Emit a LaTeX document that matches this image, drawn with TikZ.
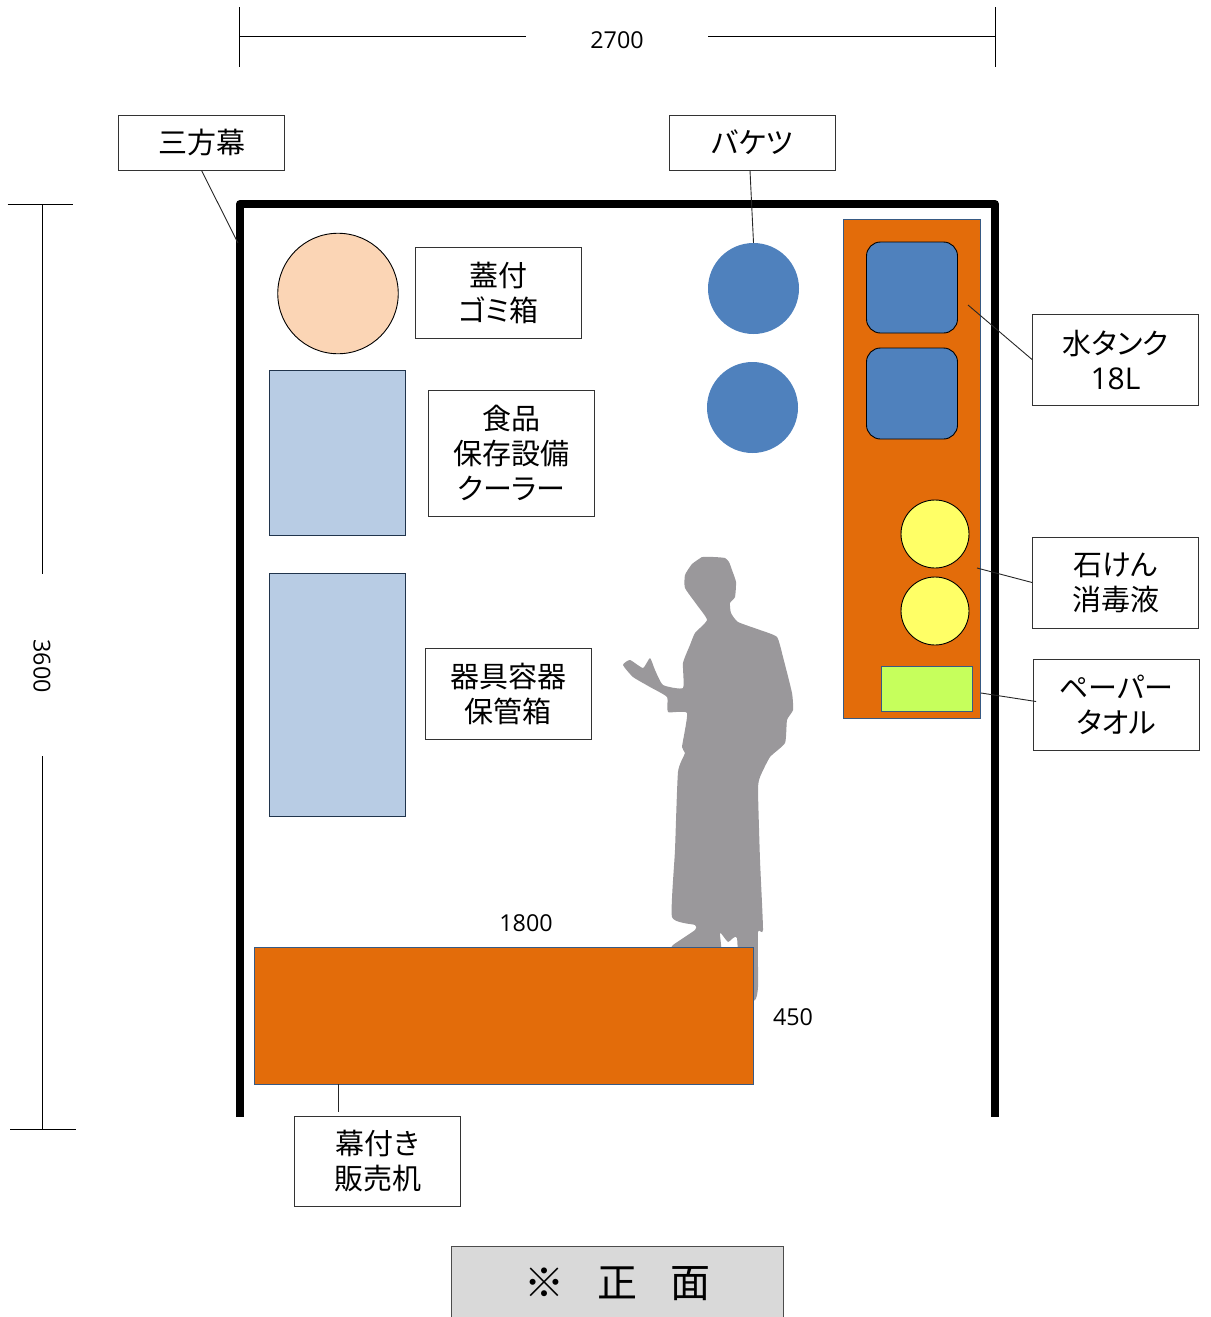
\documentclass[tikz,border=0pt]{standalone}
\usepackage{fontspec}
\setmainfont[RawFeature=+palt]{Noto Sans CJK JP}
\newfontfamily\latinfont{Open Sans}
\definecolor{tankorange}{HTML}{E36C0A}
\definecolor{tankblue}{HTML}{4F81BD}
\definecolor{shelfblue}{HTML}{B8CCE4}
\definecolor{personfill}{HTML}{9A989B}

\begin{document}
\begin{tikzpicture}[x=1pt,y=-1pt]
		\tikzstyle{labelbox}=[rectangle, draw=black!80, line width=0.9pt, fill=white, minimum width=166pt, align=center, inner sep=0pt, font=\fontsize{29}{35}\selectfont]
		\tikzstyle{dimtext}=[inner sep=0pt, font=\latinfont\fontsize{23.3}{28}\selectfont]
		\tikzstyle{dimline}=[line width=1pt, black]
		\tikzstyle{leader}=[line width=0.9pt, black!85]
		\tikzstyle{block}=[rectangle, inner sep=0pt, draw=tankblue!70!black, line width=0.8pt]
		\useasboundingbox (0,0) rectangle (1210,1317);
		% dimensions
		\coordinate (topl) at (239.5,36.5);
		\coordinate (topr) at (995,36.5);
		\coordinate (topla) at (525.5,36.5);
		\coordinate (topra) at (708,36.5);
		\coordinate (lefta) at (42.5,204);
		\coordinate (leftb) at (42.5,1129);
		\coordinate (leftm) at (42.5,573.5);
		\coordinate (leftn) at (42.5,756);
		\draw[dimline] (239.5,7) -- (239.5,66.5);
		\draw[dimline] (995,7) -- (995,66.5);
		\draw[dimline] (topl) -- (topla);
		\draw[dimline] (topra) -- (topr);
		\draw[dimline] (7.5,204) -- (72.5,204);
		\draw[dimline] (10,1129) -- (75.5,1129);
		\draw[dimline] (lefta) -- (leftm);
		\draw[dimline] (leftn) -- (leftb);
		\node[dimtext] (width) at (617,40) {2700};
		\node[dimtext, rotate=-90] (depth) at (42,666) {3600};
		% booth
		\draw[line width=8pt, line join=round] (240,1117) -- (240,204) -- (995,204) -- (995,1117);
		% person
		\fill[personfill] plot[smooth, tension=0.3] coordinates {(702,557) (714,557) (725,558) (729,562) (732,570) (736,582) (735,597) (730,603) (731,613) (738,622) (760,630) (777,637) (783,657) (792,693) (793,710) (787,720) (785,743) (770,757) (760,777) (758,790) (760,860) (763,930) (758,932) (758,987) (755,1000) (740,1000) (737,938) (728,942) (720,933) (720,960) (673,950) (673,945) (695,930) (695,925) (672,917) (675,850) (678,772) (685,753) (682,747) (687,713) (668,712) (667,697) (650,687) (633,677) (623,665) (630,660) (643,668) (650,658) (655,670) (663,685) (683,688) (683,663) (690,645) (695,633) (707,620) (697,605) (685,588) (685,575) (692,564) (702,557)};
		% left side
		\node[circle, draw=black, line width=0.9pt, fill={rgb,255:red,251;green,213;blue,181}, minimum size=120.5pt, inner sep=0pt] (bin) at (338,293.5) {};
		\node[block, draw=black!60!tankblue, fill=shelfblue, minimum width=136.5pt, minimum height=165pt] (cooler) at (337.5,452.5) {};
		\node[block, draw=black!60!tankblue, fill=shelfblue, minimum width=136.5pt, minimum height=243pt] (utensil) at (337.5,694.5) {};
		% buckets
		\node[circle, fill=tankblue, minimum size=91pt, inner sep=0pt] (bucketa) at (753.5,288.5) {};
		\node[circle, fill=tankblue, minimum size=91pt, inner sep=0pt] (bucketb) at (752.5,407.5) {};
		% wash stand
		\node[block, fill=tankorange, minimum width=136.5pt, minimum height=499pt] (stand) at (912,468.5) {};
		\node[rectangle, rounded corners=14pt, draw=black, line width=0.9pt, fill=tankblue, minimum size=91pt, inner sep=0pt] (tanka) at (912,287.5) {};
		\node[rectangle, rounded corners=14pt, draw=black, line width=0.9pt, fill=tankblue, minimum size=91pt, inner sep=0pt] (tankb) at (912,393.5) {};
		\node[circle, draw=black, line width=0.9pt, fill={rgb,255:red,255;green,255;blue,102}, minimum size=68pt, inner sep=0pt] (soapa) at (935,534) {};
		\node[circle, draw=black, line width=0.9pt, fill={rgb,255:red,255;green,255;blue,102}, minimum size=68pt, inner sep=0pt] (soapb) at (935,611) {};
		\node[block, fill={rgb,255:red,198;green,255;blue,92}, minimum width=91.5pt, minimum height=45.5pt] (towel) at (927,689) {};
		% counter
		\node[block, fill=tankorange, minimum width=499pt, minimum height=137pt] (counter) at (503.5,1015.5) {};
		\node[dimtext] (counterw) at (526,923) {1800};
		\node[dimtext] (counterd) at (793,1017) {450};
		% labels
		\node[labelbox, minimum height=55pt] (curtain) at (201.5,142.5) {三方幕};
		\node[labelbox, minimum height=55pt] (baketsu) at (752.5,142.5) {バケツ};
		\node[labelbox, minimum height=91pt] (binlabel) at (498.5,292.5) {蓋付\\ゴミ箱};
		\node[labelbox, minimum height=126pt] (coolerlabel) at (511.5,453) {食品\\保存設備\\クーラー};
		\node[labelbox, minimum height=91pt] (utensillabel) at (508,693.5) {器具容器\\保管箱};
		\node[labelbox, minimum height=91pt] (tanklabel) at (1115.5,359.5) {水タンク\\{\latinfont\fontsize{30}{35}\selectfont 18L}};
		\node[labelbox, minimum height=91pt] (soaplabel) at (1115.5,582.5) {石けん\\消毒液};
		\node[labelbox, minimum height=91pt] (towellabel) at (1116.5,704.5) {ペーパー\\タオル};
		\node[labelbox, minimum height=90pt] (counterlabel) at (377.5,1161) {幕付き\\販売机};
		\node[rectangle, draw=black!70, line width=0.9pt, fill=black!15, minimum width=332pt, minimum height=71pt, inner sep=0pt, text depth=0pt, font=\fontsize{40}{48}\selectfont] (front) at (617,1281.5) {\raisebox{-2pt}{※\hspace{33pt}正\hspace{33pt}面}};
		% leaders
		\coordinate (curtainend) at (238,243);
		\coordinate (tankend) at (968,305);
		\coordinate (soapend) at (977,568);
		\coordinate (towelend) at (981,693);
		\coordinate (countertop) at (338,1084);
		\coordinate (counterend) at (338,1112);
		\path (curtain.south) edge [leader] (curtainend)
		([xshift=-2.5pt]baketsu.south) edge [leader] (bucketa.north)
		(tanklabel.west) edge [leader] (tankend)
		(soaplabel.west) edge [leader] (soapend)
		([xshift=3pt,yshift=3pt]towellabel.west) edge [leader] (towelend)
		(countertop) edge [leader] (counterend);
		\end{tikzpicture}
\end{document}
